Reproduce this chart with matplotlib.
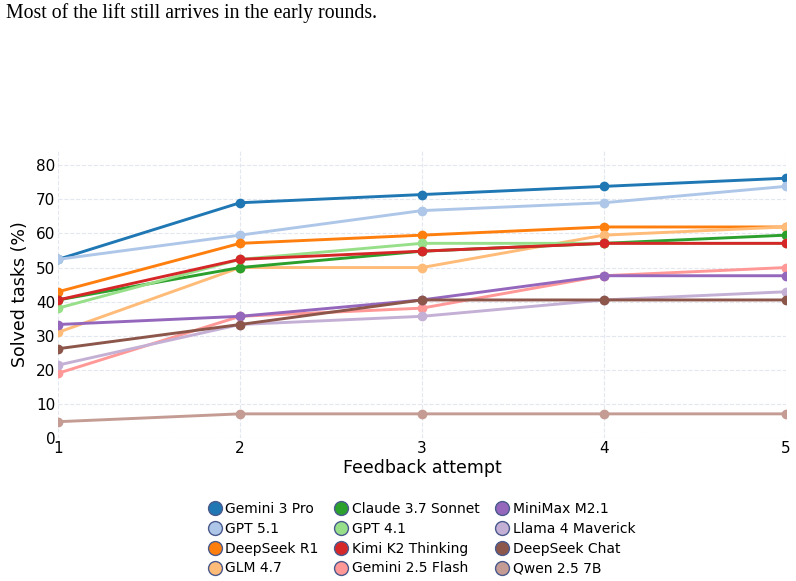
import numpy as np
import matplotlib
matplotlib.use("Agg")
import matplotlib.pyplot as plt
from matplotlib.lines import Line2D

plt.rcParams["font.family"] = ["DejaVu Sans"]

attempts = [1, 2, 3, 4, 5]

models = ["Gemini 3 Pro", "GPT 5.1", "DeepSeek R1", "GLM 4.7",
          "Claude 3.7 Sonnet", "GPT 4.1", "Kimi K2 Thinking", "Gemini 2.5 Flash",
          "MiniMax M2.1", "Llama 4 Maverick", "DeepSeek Chat", "Qwen 2.5 7B"]

gemini3_pro = [52.4, 69.0, 71.4, 73.8, 76.2]
gpt51 = [52.4, 59.5, 66.7, 69.0, 73.8]
deepseek_r1 = [42.9, 57.1, 59.5, 61.9, 61.9]
glm47 = [31.0, 50.0, 50.0, 59.5, 61.9]
claude37 = [40.5, 50.0, 54.8, 57.1, 59.5]
gpt41 = [38.1, 52.4, 57.1, 57.1, 57.1]
kimi_k2 = [40.5, 52.4, 54.8, 57.1, 57.1]
gemini25_flash = [19.0, 35.7, 38.1, 47.6, 50.0]
minimax = [33.3, 35.7, 40.5, 47.6, 47.6]
llama4 = [21.4, 33.3, 35.7, 40.5, 42.9]
deepseek_chat = [26.2, 33.3, 40.5, 40.5, 40.5]
qwen25 = [4.8, 7.1, 7.1, 7.1, 7.1]

series = [gemini3_pro, gpt51, deepseek_r1, glm47, claude37, gpt41,
          kimi_k2, gemini25_flash, minimax, llama4, deepseek_chat, qwen25]

colors = plt.get_cmap("tab20").colors[:12]

fig = plt.figure(figsize=(7.96, 5.81), dpi=100)
ax = fig.add_axes([0.073, 0.246, 0.914, 0.496])

for name, vals, c in zip(models, series, colors):
    ax.plot(attempts, vals, color=c, lw=2.1, marker="o", ms=6, label=name)

ax.set_xlim(1, 5)
ax.set_ylim(0, 84.5)
ax.set_xticks(attempts)
ax.set_yticks(np.arange(0, 81, 10))
ax.tick_params(length=0, labelsize=11, pad=2)
ax.grid(True, ls="--", color="#e3e7ef", lw=0.8)
ax.set_axisbelow(True)
for s in ax.spines.values():
    s.set_visible(False)
ax.set_xlabel("Feedback attempt", fontsize=12.5, labelpad=2)
ax.set_ylabel("Solved tasks (%)", fontsize=12.5, labelpad=5)

handles = [Line2D([], [], ls="none", marker="o", ms=10, markerfacecolor=c,
                  markeredgecolor="#4a5a8c", markeredgewidth=1.0) for c in colors]
fig.legend(handles, models, loc="upper center", bbox_to_anchor=(0.53, 0.148),
           ncol=3, frameon=False, fontsize=10, handlelength=0.9,
           handletextpad=0.3, columnspacing=1.2, labelspacing=0.42,
           borderpad=0)

fig.text(0.007, 0.994, "Most of the lift still arrives in the early rounds.",
         family="Liberation Serif", fontsize=14.2, va="top", ha="left")

fig.savefig("out.png", dpi=100)
